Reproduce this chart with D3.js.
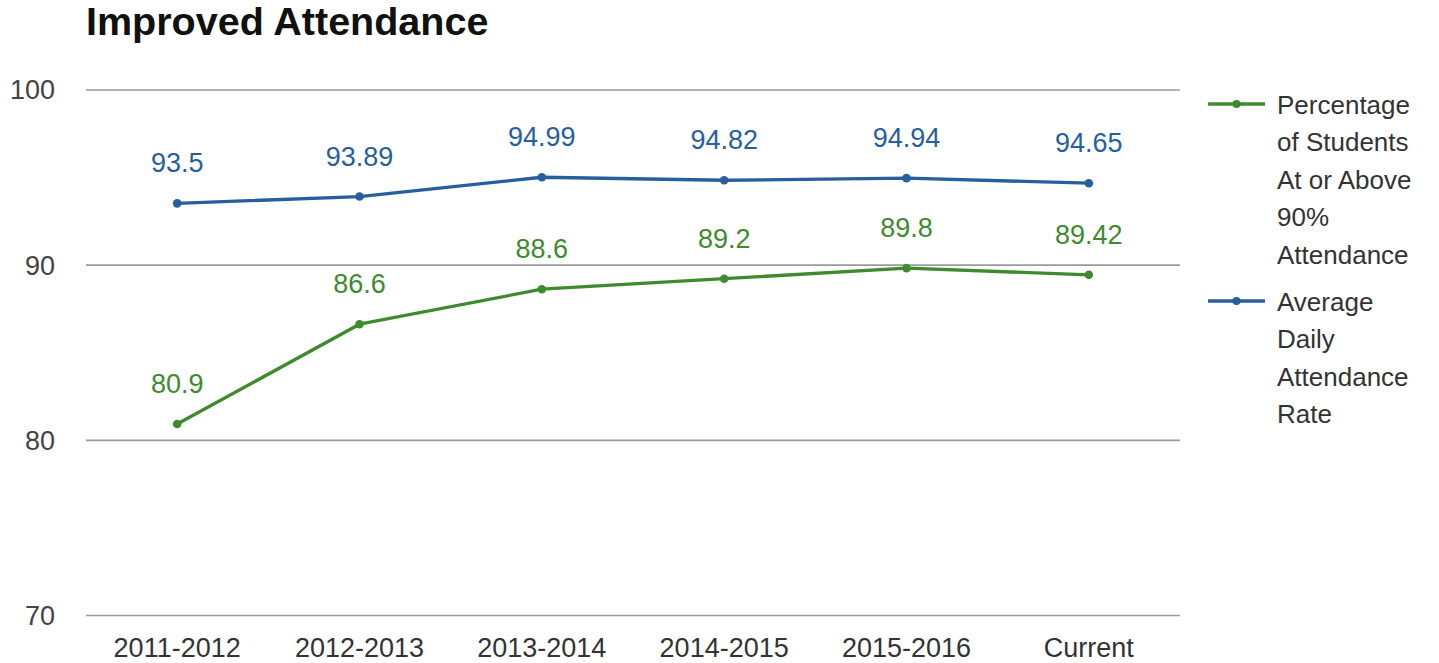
<!DOCTYPE html>
<html>
<head>
<meta charset="utf-8">
<script src="https://cdn.jsdelivr.net/npm/d3@7/dist/d3.min.js"></script>
<style>
  html, body { margin: 0; padding: 0; background: #fff; }
  svg { display: block; font-family: "Liberation Sans", Arial, Helvetica, sans-serif; }
</style>
</head>
<body>
<svg id="chart" width="1439" height="663"></svg>
<script>
const categories = ["2011-2012", "2012-2013", "2013-2014", "2014-2015", "2015-2016", "Current"];
const pctAbove90 = [80.9, 86.6, 88.6, 89.2, 89.8, 89.42];
const avgDaily = [93.5, 93.89, 94.99, 94.82, 94.94, 94.65];
const yTicks = [70, 80, 90, 100];
const seriesNames = ["Percentage of Students At or Above 90% Attendance", "Average Daily Attendance Rate"];
const legendLines = [["Percentage", "of Students", "At or Above", "90%", "Attendance"], ["Average", "Daily", "Attendance", "Rate"]];
const titleText = "Improved Attendance";

const colors = ["#3f8a2f", "#275f9e"];
const series = [
  { name: seriesNames[0], values: pctAbove90, color: colors[0], lines: legendLines[0] },
  { name: seriesNames[1], values: avgDaily, color: colors[1], lines: legendLines[1] }
];

const svg = d3.select("#chart");
const plotLeft = 86, plotRight = 1180, plotTop = 89.5, plotBottom = 615;

const x = d3.scaleBand().domain(categories).range([plotLeft, plotRight]);
const y = d3.scaleLinear().domain([70, 100]).range([plotBottom, plotTop]);

// title
svg.append("text").attr("x", 86).attr("y", 35)
  .attr("font-size", 39.5).attr("font-weight", "bold").attr("fill", "#111")
  .text(titleText);

// gridlines
const yAxis = d3.axisLeft(y).tickValues(yTicks).tickSize(-(plotRight - plotLeft)).tickPadding(31).tickFormat(d3.format("d"));
const gy = svg.append("g").attr("transform", `translate(${plotLeft},0)`).call(yAxis);
gy.select(".domain").remove();
gy.selectAll(".tick line").attr("stroke", "#9a9a9a").attr("stroke-width", 1.6);
gy.selectAll(".tick text").attr("font-size", 27).attr("fill", "#444").attr("dy", "0.35em");

// x axis labels
const xAxis = d3.axisBottom(x).tickSize(0).tickPadding(0);
const gx = svg.append("g").attr("transform", `translate(0,${plotBottom})`).call(xAxis);
gx.select(".domain").remove();
gx.selectAll(".tick text").attr("font-size", 27).attr("fill", "#333").attr("dy", null).attr("y", 42);

const cx = d => x(d) + x.bandwidth() / 2;

const line = d3.line().x((d, i) => cx(categories[i])).y(d => y(d));

series.forEach(s => {
  const g = svg.append("g");
  g.append("path").attr("d", line(s.values)).attr("fill", "none")
    .attr("stroke", s.color).attr("stroke-width", 3.3).attr("stroke-linejoin", "round");
  g.selectAll("circle").data(s.values).join("circle")
    .attr("cx", (d, i) => cx(categories[i])).attr("cy", d => y(d)).attr("r", 4.3)
    .attr("fill", s.color);
  g.selectAll("text.lbl").data(s.values).join("text").attr("class", "lbl")
    .attr("x", (d, i) => cx(categories[i])).attr("y", d => y(d) - 31)
    .attr("text-anchor", "middle").attr("font-size", 27).attr("fill", s.color)
    .text(d => d);
});

// legend
const legendTops = [104, 301];
series.forEach((s, k) => {
  const ly = legendTops[k];
  const g = svg.append("g");
  g.append("line").attr("x1", 1208).attr("x2", 1265).attr("y1", ly).attr("y2", ly)
    .attr("stroke", s.color).attr("stroke-width", 3.3);
  g.append("circle").attr("cx", 1236.5).attr("cy", ly).attr("r", 4).attr("fill", s.color);
  const t = g.append("text").attr("x", 1277).attr("y", ly + 9.5)
    .attr("font-size", 26).attr("fill", "#333");
  s.lines.forEach((ln, i) => {
    t.append("tspan").attr("x", 1277).attr("dy", i === 0 ? 0 : 37.5).text(ln);
  });
});
</script>
</body>
</html>
